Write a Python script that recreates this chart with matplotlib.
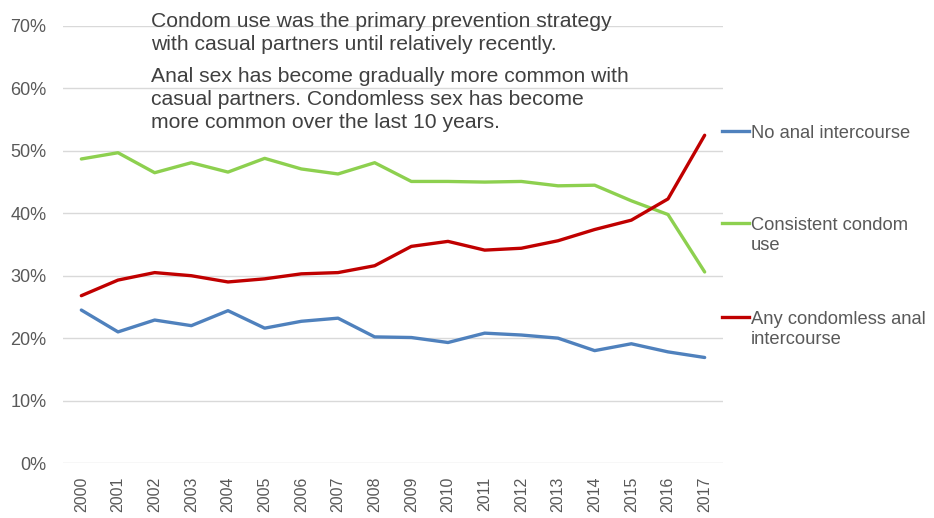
import matplotlib
matplotlib.use('Agg')
import matplotlib.pyplot as plt
from matplotlib.lines import Line2D

plt.rcParams['font.family'] = ['Liberation Sans', 'DejaVu Sans']

years = [str(y) for y in range(2000, 2018)]
no_anal = [24.5, 21.0, 22.9, 22.0, 24.4, 21.6, 22.7, 23.2, 20.2, 20.1, 19.3, 20.8, 20.5, 20.0, 18.0, 19.1, 17.8, 16.9]
consistent = [48.7, 49.7, 46.5, 48.1, 46.6, 48.8, 47.1, 46.3, 48.1, 45.1, 45.1, 45.0, 45.1, 44.4, 44.5, 42.0, 39.8, 30.6]
condomless = [26.8, 29.3, 30.5, 30.0, 29.0, 29.5, 30.3, 30.5, 31.6, 34.7, 35.5, 34.1, 34.4, 35.6, 37.4, 38.9, 42.3, 52.5]

labels = [['No anal intercourse'], ['Consistent condom', 'use'], ['Any condomless anal', 'intercourse']]
colors = ['#4F81BD', '#8DD04F', '#C00000']
series = [no_anal, consistent, condomless]

notes = ['Condom use was the primary prevention strategy',
         'with casual partners until relatively recently.',
         'Anal sex has become gradually more common with',
         'casual partners. Condomless sex has become',
         'more common over the last 10 years.']
note_base = [27, 50, 82, 105, 128]

W, H = 934, 518
fig = plt.figure(figsize=(W / 100, H / 100), dpi=100)
ax = fig.add_axes([63 / W, (H - 463) / H, (723 - 63) / W, (463 - 26) / H])

x = list(range(len(years)))
for vals, c in zip(series, colors):
    ax.plot(x, [v / 100 for v in vals], color=c, lw=2.4, solid_capstyle='round')

ax.set_xlim(-0.5, 17.5)
ax.set_ylim(0, 0.7)
ax.set_yticks([i / 10 for i in range(8)])
ax.set_yticklabels(['%d%%' % (i * 10) for i in range(8)], color='#595959', fontsize=13)
ax.set_xticks(x)
ax.set_xticklabels(years, rotation=90, color='#595959', fontsize=11.5)
ax.tick_params(axis='y', length=0, pad=12)
ax.tick_params(axis='x', length=0, pad=10)
ax.grid(axis='y', color='#D9D9D9', lw=1)
ax.set_axisbelow(True)
for s in ax.spines.values():
    s.set_visible(False)

# legend drawn by hand, handle level with the first text line
leg_y = [131, 223, 317]
for lines, c, yy in zip(labels, colors, leg_y):
    fy = (H - yy) / H
    fig.add_artist(Line2D([722 / W, 749 / W], [fy, fy], color=c, lw=2.4))
    for i, ln in enumerate(lines):
        fig.text(751 / W, (H - yy - 6.5 - 20 * i) / H, ln, fontsize=13.2,
                 color='#595959', va='baseline')

for ln, b in zip(notes, note_base):
    fig.text(151 / W, (H - b) / H, ln, fontsize=15.2, color='#404040', va='baseline')

fig.savefig('out.png', dpi=100)
